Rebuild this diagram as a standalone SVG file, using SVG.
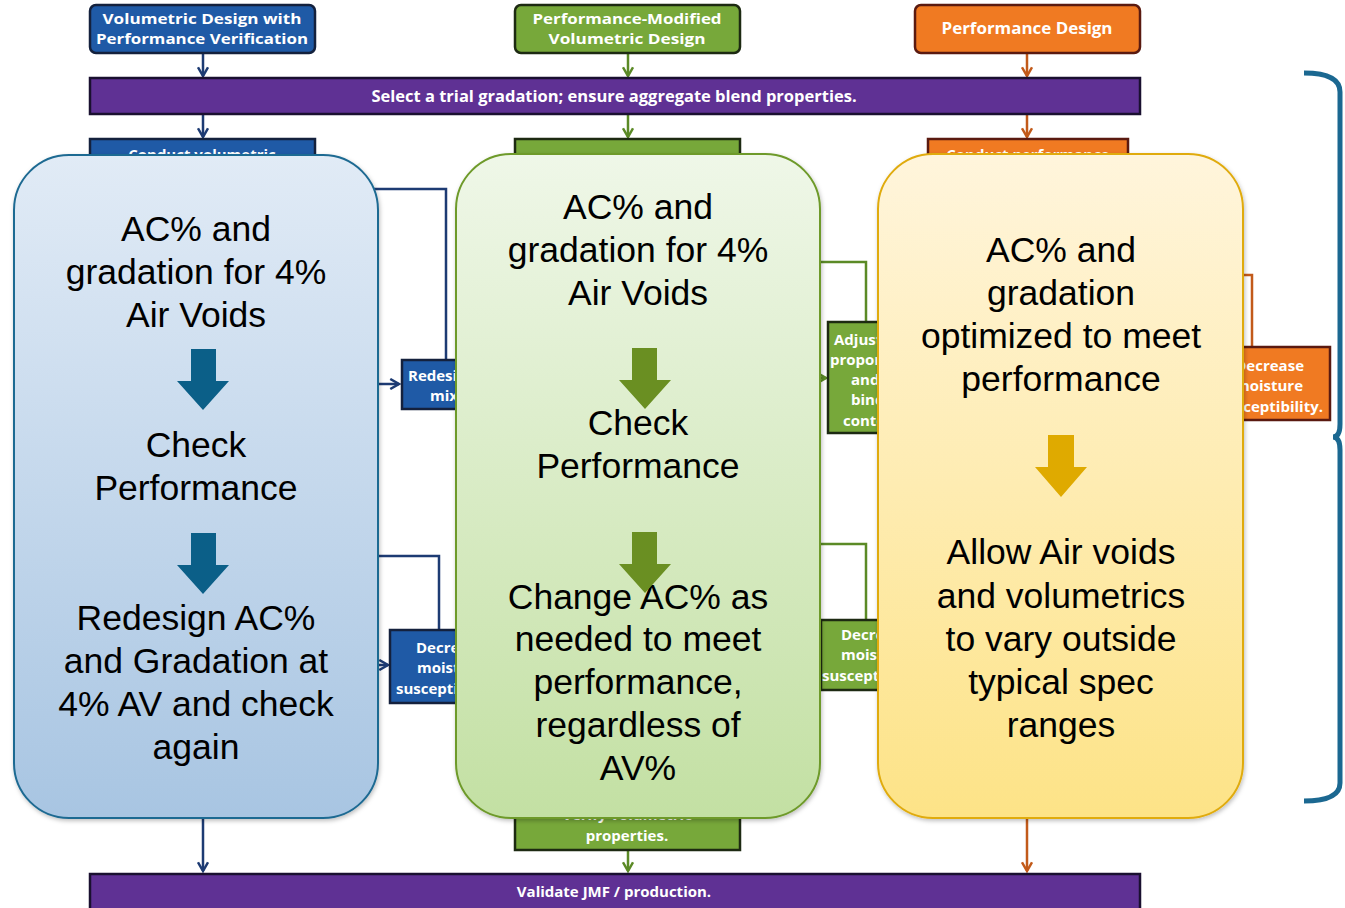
<svg xmlns="http://www.w3.org/2000/svg" width="1345" height="908" viewBox="0 0 1345 908">
<defs>
<style>
.fc{font-family:"Open Sans","Liberation Sans",sans-serif;font-weight:700;fill:#fff}
.h{font-size:14.5px}
.s{font-size:15px}
.t{font-family:Arial,"Liberation Sans",sans-serif;font-size:35.5px;fill:#000;text-anchor:middle}
.cb{fill:none;stroke:#1d3b73;stroke-width:2.5}
.cg{fill:none;stroke:#5b8a26;stroke-width:2.5}
.co{fill:none;stroke:#c25a1a;stroke-width:2.5}
.bbox{fill:#1f5aa6;stroke:#14213d;stroke-width:2.5}
.gbox{fill:#77a83a;stroke:#1d2a12;stroke-width:2.5}
.obox{fill:#f07a22;stroke:#5a1a10;stroke-width:2.5}
.pbar{fill:#5f3194;stroke:#1a1030;stroke-width:2.5}
</style>
<marker id="ab" viewBox="0 0 10 10" refX="8" refY="5" markerWidth="5" markerHeight="5" orient="auto-start-reverse"><path d="M1,1 L8,5 L1,9" fill="none" stroke="#1d3b73" stroke-width="2"/></marker>
<marker id="ag" viewBox="0 0 10 10" refX="8" refY="5" markerWidth="5" markerHeight="5" orient="auto-start-reverse"><path d="M1,1 L8,5 L1,9" fill="none" stroke="#5b8a26" stroke-width="2"/></marker>
<marker id="ao" viewBox="0 0 10 10" refX="8" refY="5" markerWidth="5" markerHeight="5" orient="auto-start-reverse"><path d="M1,1 L8,5 L1,9" fill="none" stroke="#c25a1a" stroke-width="2"/></marker>
<linearGradient id="gb" x1="0" y1="0" x2="0" y2="1"><stop offset="0" stop-color="#e1ebf6"/><stop offset="1" stop-color="#a8c5e2"/></linearGradient>
<linearGradient id="gg" x1="0" y1="0" x2="0" y2="1"><stop offset="0" stop-color="#eff7e8"/><stop offset="1" stop-color="#c3e0a3"/></linearGradient>
<linearGradient id="gy" x1="0" y1="0" x2="0" y2="1"><stop offset="0" stop-color="#fff5dc"/><stop offset="1" stop-color="#fde387"/></linearGradient>
<filter id="sh" x="-5%" y="-5%" width="110%" height="110%"><feDropShadow dx="1" dy="2" stdDeviation="2" flood-color="#000" flood-opacity="0.25"/></filter>
</defs>
<rect width="1345" height="908" fill="#fff"/>

<g id="connectors">
<path class="cb" d="M203,53 V76" marker-end="url(#ab)"/>
<path class="cg" d="M628,53 V76" marker-end="url(#ag)"/>
<path class="co" d="M1027,53 V76" marker-end="url(#ao)"/>
<path class="cb" d="M203,114 V137" marker-end="url(#ab)"/>
<path class="cg" d="M628,114 V137" marker-end="url(#ag)"/>
<path class="co" d="M1027,114 V137" marker-end="url(#ao)"/>
<path class="cb" d="M370,189 H446 V360"/>
<path class="cb" d="M370,384 H399" marker-end="url(#ab)"/>
<path class="cb" d="M370,556 H439 V630"/>
<path class="cb" d="M370,665 H388" marker-end="url(#ab)"/>
<path class="cg" d="M815,262 H866 V322"/>
<path class="cg" d="M815,378 H826" marker-end="url(#ag)"/>
<path class="cg" d="M815,544 H866 V620"/>
<path class="co" d="M1238,275 H1252 V347"/>
<path class="cb" d="M203,812 V871" marker-end="url(#ab)"/>
<path class="cg" d="M628,850 V871" marker-end="url(#ag)"/>
<path class="co" d="M1027,812 V871" marker-end="url(#ao)"/>
</g>

<g id="node-head-blue"><rect class="bbox" x="90" y="5" width="225" height="48" rx="6"/><text class="fc h" x="202" y="24" text-anchor="middle" textLength="199" lengthAdjust="spacingAndGlyphs">Volumetric Design with</text><text class="fc h" x="202" y="44" text-anchor="middle" textLength="212" lengthAdjust="spacingAndGlyphs">Performance Verification</text></g>
<g id="node-head-green"><rect class="gbox" x="515" y="5" width="225" height="48" rx="6"/><text class="fc h" x="627" y="24" text-anchor="middle" textLength="189" lengthAdjust="spacingAndGlyphs">Performance-Modified</text><text class="fc h" x="627" y="44" text-anchor="middle" textLength="157" lengthAdjust="spacingAndGlyphs">Volumetric Design</text></g>
<g id="node-head-orange"><rect class="obox" x="915" y="5" width="225" height="48" rx="6"/><text class="fc" x="1027" y="34" text-anchor="middle" font-size="16" textLength="171" lengthAdjust="spacingAndGlyphs">Performance Design</text></g>
<g id="node-select"><rect class="pbar" x="90" y="78" width="1050" height="36"/><text class="fc" x="614" y="102" text-anchor="middle" font-weight="600" font-size="16.5">Select a trial gradation; ensure aggregate blend properties.</text></g>
<g id="node-conduct-blue"><rect class="bbox" x="90" y="139" width="225" height="60"/><text class="fc s" x="202" y="160" text-anchor="middle">Conduct volumetric</text></g>
<g id="node-conduct-green"><rect class="gbox" x="515" y="139" width="225" height="60"/><text class="fc s" x="627" y="164" text-anchor="middle">Conduct volumetric</text></g>
<g id="node-conduct-orange"><rect class="obox" x="928" y="139" width="200" height="60"/><text class="fc s" x="1028" y="160" text-anchor="middle">Conduct performance</text></g>
<g id="node-redesign"><rect class="bbox" x="402" y="360" width="100" height="49"/><text class="fc s" x="408" y="381">Redesign</text><text class="fc s" x="430" y="401">mix</text></g>
<g id="node-decrease-blue"><rect class="bbox" x="390" y="630" width="110" height="73"/><text class="fc s" x="416" y="653">Decrease</text><text class="fc s" x="417" y="673">moisture</text><text class="fc s" x="396" y="694">susceptibility.</text></g>
<g id="node-adjust"><rect class="gbox" x="828" y="322" width="90" height="111"/><text class="fc s" x="834" y="345">Adjust</text><text class="fc s" x="830" y="365">proportions</text><text class="fc s" x="851" y="385">and</text><text class="fc s" x="851" y="405">binder</text><text class="fc s" x="843" y="426">content</text></g>
<g id="node-decrease-green"><rect class="gbox" x="821" y="620" width="100" height="70"/><text class="fc s" x="841" y="640">Decrease</text><text class="fc s" x="841" y="660">moisture</text><text class="fc s" x="822" y="681">susceptibility.</text></g>
<g id="node-decrease-orange"><rect class="obox" x="1160" y="347" width="170" height="73"/><text class="fc s" x="1304" y="371" text-anchor="end">Decrease</text><text class="fc s" x="1303" y="391" text-anchor="end">moisture</text><text class="fc s" x="1323" y="412" text-anchor="end">susceptibility.</text></g>
<g id="node-verify"><rect class="gbox" x="515" y="790" width="225" height="60"/><text class="fc s" x="627" y="820" text-anchor="middle">Verify volumetric</text><text class="fc s" x="627" y="841" text-anchor="middle">properties.</text></g>
<g id="node-validate"><rect class="pbar" x="90" y="874" width="1050" height="40"/><text class="fc" x="614" y="897" text-anchor="middle" font-weight="600" font-size="15">Validate JMF / production.</text></g>

<g id="panel-blue">
<rect x="14" y="155" width="364" height="663" rx="55" fill="url(#gb)" stroke="#1f6a92" stroke-width="2" filter="url(#sh)"/>
<text class="t" x="196" y="241">AC% and</text>
<text class="t" x="196" y="284">gradation for 4%</text>
<text class="t" x="196" y="327">Air Voids</text>
<path d="M191,349 H216 V381 H229 L203,410 L177,381 H191 Z" fill="#0b5f88"/>
<text class="t" x="196" y="457">Check</text>
<text class="t" x="196" y="500">Performance</text>
<path d="M191,533 H216 V565 H229 L203,594 L177,565 H191 Z" fill="#0b5f88"/>
<text class="t" x="196" y="630">Redesign AC%</text>
<text class="t" x="196" y="673">and Gradation at</text>
<text class="t" x="196" y="716">4% AV and check</text>
<text class="t" x="196" y="759">again</text>
</g>

<g id="panel-green">
<rect x="456" y="154" width="364" height="664" rx="55" fill="url(#gg)" stroke="#6e9a2a" stroke-width="2" filter="url(#sh)"/>
<text class="t" x="638" y="219">AC% and</text>
<text class="t" x="638" y="262">gradation for 4%</text>
<text class="t" x="638" y="305">Air Voids</text>
<path d="M632,348 H657 V380 H671 L645,409 L619,380 H632 Z" fill="#6a8f22"/>
<text class="t" x="638" y="435">Check</text>
<text class="t" x="638" y="478">Performance</text>
<text class="t" x="638" y="609">Change AC% as</text>
<path d="M632,532 H657 V564 H671 L645,593 L619,564 H632 Z" fill="#6a8f22"/>
<text class="t" x="638" y="651">needed to meet</text>
<text class="t" x="638" y="694">performance,</text>
<text class="t" x="638" y="737">regardless of</text>
<text class="t" x="638" y="780">AV%</text>
</g>

<g id="panel-yellow">
<rect x="878" y="154" width="365" height="664" rx="55" fill="url(#gy)" stroke="#e0ab10" stroke-width="2" filter="url(#sh)"/>
<text class="t" x="1061" y="262">AC% and</text>
<text class="t" x="1061" y="305">gradation</text>
<text class="t" x="1061" y="348">optimized to meet</text>
<text class="t" x="1061" y="391">performance</text>
<path d="M1048,435 H1074 V467 H1087 L1061,497 L1035,467 H1048 Z" fill="#dfaa00"/>
<text class="t" x="1061" y="564">Allow Air voids</text>
<text class="t" x="1061" y="608">and volumetrics</text>
<text class="t" x="1061" y="651">to vary outside</text>
<text class="t" x="1061" y="694">typical spec</text>
<text class="t" x="1061" y="737">ranges</text>
</g>

<g id="bracket">
<path d="M1304,73 Q1340,73 1340,92 V424 Q1340,437 1333,437 Q1340,437 1340,450 V783 Q1340,801 1304,801" fill="none" stroke="#1b6891" stroke-width="5"/>
</g>
</svg>
